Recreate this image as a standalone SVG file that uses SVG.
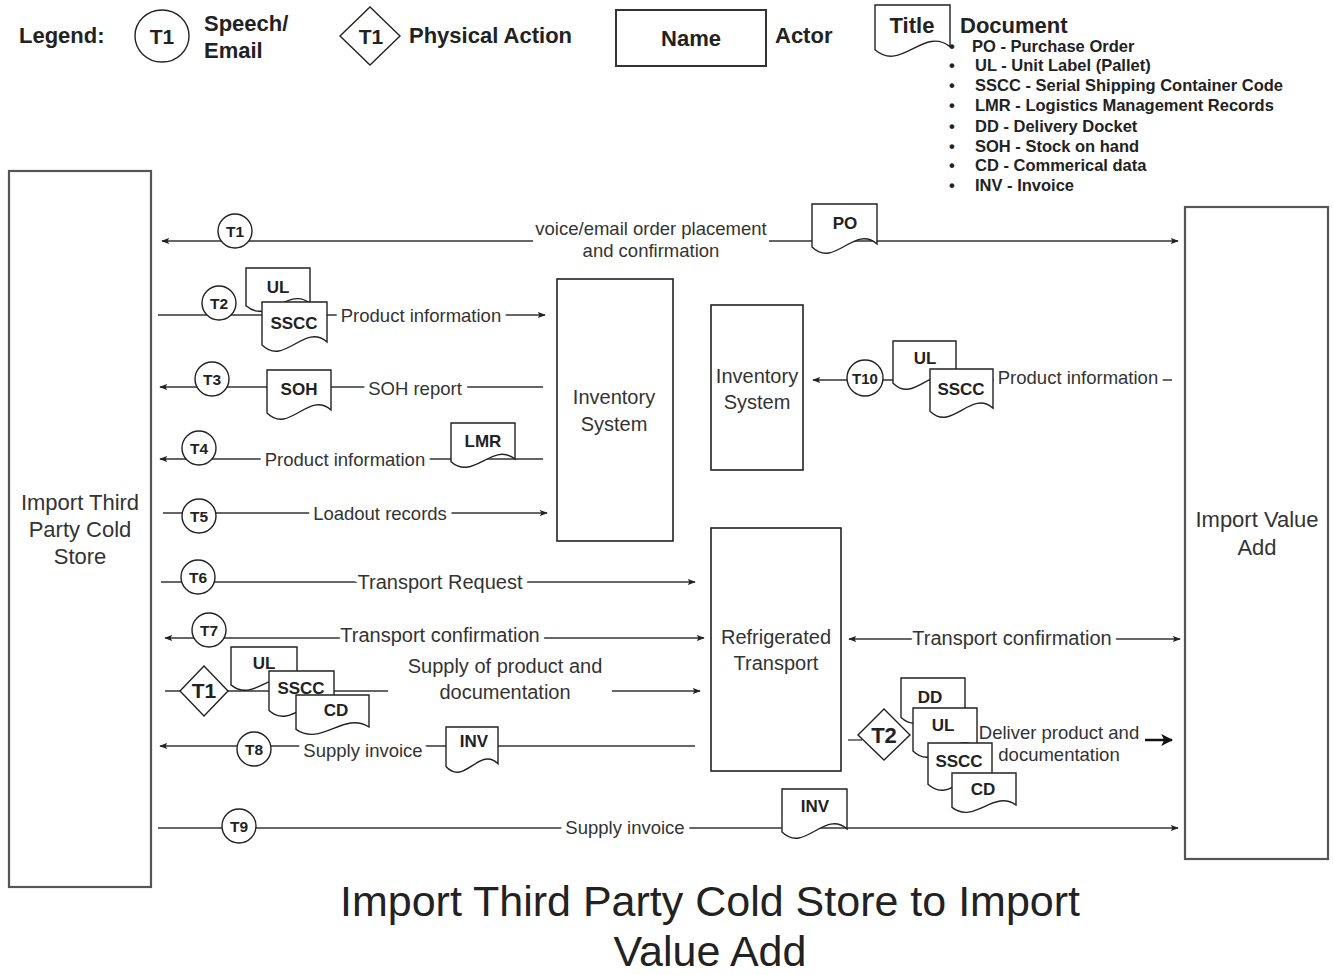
<svg xmlns="http://www.w3.org/2000/svg" xmlns:xlink="http://www.w3.org/1999/xlink" width="1333" height="975" viewBox="0 0 1333 975">
<style>
text{font-family:"Liberation Sans",Arial,sans-serif;fill:#222}
.lbl{font-size:18.5px;text-anchor:middle;stroke:#fff;stroke-width:11px;paint-order:stroke;stroke-linejoin:round;fill:#333}
.plain{stroke:none}
.lbl20{font-size:20px}
.ln{stroke:#333;stroke-width:1.3;fill:none}
.circ{fill:#fff;stroke:#222;stroke-width:1.4}
.ctx{font-size:15.5px;font-weight:bold;text-anchor:middle}
.dtx{font-size:17px;font-weight:bold;text-anchor:middle}
.actor{fill:#fff;stroke:#555;stroke-width:2.2}
.ntx{font-size:20px;text-anchor:middle;fill:#333}
.big{font-size:22px}
.leg{font-size:22px;font-weight:bold}
.bul{font-size:16.5px;font-weight:bold}
</style>
<defs>
<marker id="arr" viewBox="0 0 10 10" refX="9" refY="5" markerWidth="8" markerHeight="8" markerUnits="userSpaceOnUse" orient="auto-start-reverse"><path d="M0 1 L10 5 L0 9 L2 5 Z" fill="#222"/></marker>
<marker id="arrB" viewBox="0 0 10 10" refX="9" refY="5" markerWidth="12" markerHeight="12" markerUnits="userSpaceOnUse" orient="auto-start-reverse"><path d="M0 0 L10 5 L0 10 L2.5 5 Z" fill="#111"/></marker>
<symbol id="doc" viewBox="0 0 100 100" preserveAspectRatio="none" overflow="visible"><path d="M0 0 H100 V80 C65 40 35 130 0 86 Z" fill="#fff" stroke="#222" stroke-width="1.4" vector-effect="non-scaling-stroke"/></symbol>
</defs>
<rect width="1333" height="975" fill="#fff"/>

<!-- Legend -->
<g id="legend">
<text class="leg" x="19" y="43">Legend:</text>
<ellipse class="circ" cx="162" cy="36" rx="27" ry="26"/>
<text class="leg" x="162" y="44" text-anchor="middle" style="font-size:21px">T1</text>
<text class="leg" x="204" y="31">Speech/</text>
<text class="leg" x="204" y="58">Email</text>
<polygon class="circ" points="370,7 400,36 370,65 340,36"/>
<text class="leg" x="371" y="44" text-anchor="middle" style="font-size:21px">T1</text>
<text class="leg" x="409" y="43">Physical Action</text>
<rect x="616" y="10" width="150" height="56" fill="#fff" stroke="#333" stroke-width="2"/>
<text class="leg" x="691" y="46" text-anchor="middle">Name</text>
<text class="leg" x="775" y="43">Actor</text>
<use xlink:href="#doc" x="875" y="5" width="75" height="52"/>
<text class="leg" x="912" y="33" text-anchor="middle">Title</text>
<text class="leg" x="960" y="33">Document</text>
<g class="bul">
<text x="949" y="52">•</text><text x="972" y="52">PO - Purchase Order</text>
<text x="949" y="71">•</text><text x="975" y="71">UL - Unit Label (Pallet)</text>
<text x="949" y="91">•</text><text x="975" y="91">SSCC - Serial Shipping Container Code</text>
<text x="949" y="111">•</text><text x="975" y="111">LMR - Logistics Management Records</text>
<text x="949" y="132">•</text><text x="975" y="132">DD - Delivery Docket</text>
<text x="949" y="152">•</text><text x="975" y="152">SOH - Stock on hand</text>
<text x="949" y="171">•</text><text x="975" y="171">CD - Commerical data</text>
<text x="949" y="191">•</text><text x="975" y="191">INV - Invoice</text>
</g>
</g>

<!-- Actors / nodes -->
<g id="cold-store">
<rect class="actor" x="9" y="171" width="142" height="716"/>
<text class="ntx big" x="80" y="510">Import Third</text>
<text class="ntx big" x="80" y="537">Party Cold</text>
<text class="ntx big" x="80" y="564">Store</text>
</g>
<g id="value-add">
<rect class="actor" x="1185" y="207" width="143" height="652"/>
<text class="ntx big" x="1257" y="527">Import Value</text>
<text class="ntx big" x="1257" y="555">Add</text>
</g>
<g id="inventory-1">
<rect x="557" y="279" width="116" height="262" fill="#fff" stroke="#222" stroke-width="1.6"/>
<text class="ntx" x="614" y="404">Inventory</text>
<text class="ntx" x="614" y="431">System</text>
</g>
<g id="inventory-2">
<rect x="711" y="305" width="92" height="165" fill="#fff" stroke="#222" stroke-width="1.6"/>
<text class="ntx" x="757" y="383">Inventory</text>
<text class="ntx" x="757" y="409">System</text>
</g>
<g id="refrigerated-transport">
<rect x="711" y="528" width="130" height="243" fill="#fff" stroke="#222" stroke-width="1.6"/>
<text class="ntx" x="776" y="644">Refrigerated</text>
<text class="ntx" x="776" y="670">Transport</text>
</g>

<!-- Connectors -->
<g id="connectors">
<line class="ln" x1="533" y1="241" x2="162" y2="241" marker-end="url(#arr)"/>
<line class="ln" x1="769" y1="241" x2="1178" y2="241" marker-end="url(#arr)"/>
<line class="ln" x1="158" y1="315" x2="545" y2="315" marker-end="url(#arr)"/>
<line class="ln" x1="543" y1="387" x2="160" y2="387" marker-end="url(#arr)"/>
<line class="ln" x1="543" y1="459" x2="160" y2="459" marker-end="url(#arr)"/>
<line class="ln" x1="163" y1="513" x2="547" y2="513" marker-end="url(#arr)"/>
<line class="ln" x1="161" y1="582" x2="695" y2="582" marker-end="url(#arr)"/>
<line class="ln" x1="165" y1="638" x2="704" y2="638" marker-start="url(#arr)" marker-end="url(#arr)"/>
<line class="ln" x1="165" y1="691" x2="388" y2="691"/>
<line class="ln" x1="612" y1="691" x2="700" y2="691" marker-end="url(#arr)"/>
<line class="ln" x1="695" y1="746" x2="160" y2="746" marker-end="url(#arr)"/>
<line class="ln" x1="158" y1="828" x2="1178" y2="828" marker-end="url(#arr)"/>
<line class="ln" x1="1172" y1="380" x2="813" y2="380" marker-end="url(#arr)"/>
<line class="ln" x1="849" y1="639" x2="1180" y2="639" marker-start="url(#arr)" marker-end="url(#arr)"/>
<line class="ln" x1="848" y1="740" x2="862" y2="740"/>
<line x1="1145" y1="740" x2="1172" y2="740" stroke="#111" stroke-width="2.5" marker-end="url(#arrB)"/>
</g>

<!-- Labels -->
<g id="labels">
<text class="lbl plain" x="651" y="235">voice/email order placement</text>
<text class="lbl plain" x="651" y="257">and confirmation</text>
<text class="lbl" x="421" y="322">Product information</text>
<text class="lbl" x="415" y="395">SOH report</text>
<text class="lbl" x="345" y="466">Product information</text>
<text class="lbl" x="380" y="520">Loadout records</text>
<text class="lbl lbl20" x="440" y="589">Transport Request</text>
<text class="lbl lbl20" x="440" y="642">Transport confirmation</text>
<text class="lbl lbl20 plain" x="505" y="673">Supply of product and</text>
<text class="lbl lbl20 plain" x="505" y="699">documentation</text>
<text class="lbl" x="363" y="757">Supply invoice</text>
<text class="lbl" x="625" y="834">Supply invoice</text>
<text class="lbl" x="1078" y="384">Product information</text>
<text class="lbl lbl20" x="1012" y="645">Transport confirmation</text>
<text class="lbl plain" x="1059" y="739">Deliver product and</text>
<text class="lbl plain" x="1059" y="761">documentation</text>
</g>

<!-- Transaction markers -->
<g id="t1"><circle class="circ" cx="235" cy="231" r="17"/><text class="ctx" x="235" y="237">T1</text></g>
<g id="t2"><circle class="circ" cx="219" cy="303" r="17"/><text class="ctx" x="219" y="309">T2</text></g>
<g id="t3"><circle class="circ" cx="212" cy="379" r="17"/><text class="ctx" x="212" y="385">T3</text></g>
<g id="t4"><circle class="circ" cx="199" cy="448" r="17"/><text class="ctx" x="199" y="454">T4</text></g>
<g id="t5"><circle class="circ" cx="199" cy="516" r="17"/><text class="ctx" x="199" y="522">T5</text></g>
<g id="t6"><circle class="circ" cx="198" cy="577" r="17"/><text class="ctx" x="198" y="583">T6</text></g>
<g id="t7"><circle class="circ" cx="209" cy="630" r="17"/><text class="ctx" x="209" y="636">T7</text></g>
<g id="t8"><circle class="circ" cx="254" cy="749" r="17"/><text class="ctx" x="254" y="755">T8</text></g>
<g id="t9"><circle class="circ" cx="239" cy="826" r="17"/><text class="ctx" x="239" y="832">T9</text></g>
<g id="t10"><circle class="circ" cx="865" cy="378" r="18"/><text class="ctx" x="865" y="384" style="font-size:15px">T10</text></g>
<g id="p1"><polygon class="circ" points="204,666 228,691 204,716 180,691"/><text class="ctx" x="204" y="698" style="font-size:21px">T1</text></g>
<g id="p2"><polygon class="circ" points="884,709 910,735 884,760 858,735"/><text class="ctx" x="884" y="743" style="font-size:22px">T2</text></g>

<!-- Documents -->
<g id="doc-po"><use xlink:href="#doc" x="812" y="204" width="65" height="50"/><text class="dtx" x="845" y="229">PO</text></g>
<g id="doc-t2">
<use xlink:href="#doc" x="246" y="268" width="64" height="44"/><text class="dtx" x="278" y="293">UL</text>
<use xlink:href="#doc" x="262" y="302" width="65" height="50"/><text class="dtx" x="294" y="329">SSCC</text>
</g>
<g id="doc-soh"><use xlink:href="#doc" x="267" y="370" width="64" height="50"/><text class="dtx" x="299" y="395">SOH</text></g>
<g id="doc-lmr"><use xlink:href="#doc" x="451" y="423" width="64" height="45"/><text class="dtx" x="483" y="447">LMR</text></g>
<g id="doc-t10">
<use xlink:href="#doc" x="893" y="341" width="63" height="49"/><text class="dtx" x="925" y="364">UL</text>
<use xlink:href="#doc" x="930" y="369" width="63" height="49"/><text class="dtx" x="961" y="395">SSCC</text>
</g>
<g id="doc-p1">
<use xlink:href="#doc" x="231" y="647" width="66" height="44"/><text class="dtx" x="264" y="669">UL</text>
<use xlink:href="#doc" x="269" y="671" width="65" height="46"/><text class="dtx" x="301" y="694">SSCC</text>
<use xlink:href="#doc" x="296" y="695" width="73" height="40"/><text class="dtx" x="336" y="716">CD</text>
</g>
<g id="doc-inv8"><use xlink:href="#doc" x="446" y="727" width="52" height="46"/><text class="dtx" x="474" y="747">INV</text></g>
<g id="doc-inv9"><use xlink:href="#doc" x="782" y="789" width="65" height="50"/><text class="dtx" x="815" y="812">INV</text></g>
<g id="doc-p2">
<use xlink:href="#doc" x="901" y="678" width="64" height="46"/><text class="dtx" x="930" y="703">DD</text>
<use xlink:href="#doc" x="913" y="708" width="64" height="50"/><text class="dtx" x="943" y="731">UL</text>
<use xlink:href="#doc" x="928" y="743" width="64" height="48"/><text class="dtx" x="959" y="767">SSCC</text>
<use xlink:href="#doc" x="952" y="773" width="64" height="40"/><text class="dtx" x="983" y="795">CD</text>
</g>

<!-- Title -->
<g id="title">
<text x="710" y="916" text-anchor="middle" style="font-size:43px;fill:#222">Import Third Party Cold Store to Import</text>
<text x="710" y="966" text-anchor="middle" style="font-size:43px;fill:#222">Value Add</text>
</g>
</svg>
